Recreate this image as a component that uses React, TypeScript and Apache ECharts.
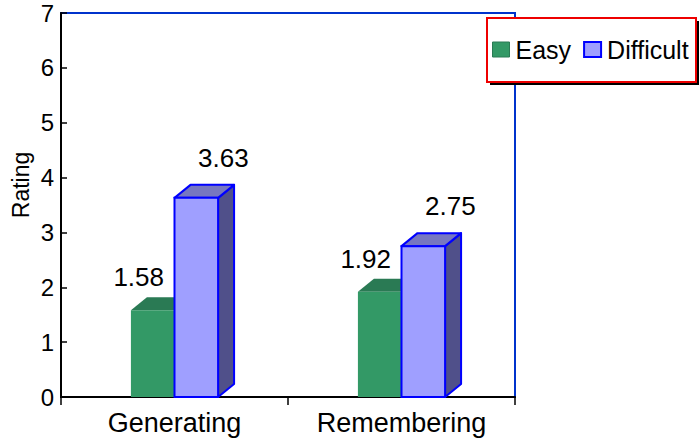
import React, { useEffect, useRef } from "react";
import * as echarts from "echarts";

const categories = ["Generating", "Remembering"];
const easyValues = [1.58, 1.92];
const difficultValues = [3.63, 2.75];
const yTicks = [0, 1, 2, 3, 4, 5, 6, 7];

const FONT = "'Liberation Sans', Arial, Helvetica, sans-serif";

// Fixed oblique depth of the pseudo-3D bars (pixels)
const DEPTH_X = 16;
const DEPTH_Y = 13;

type Face = { front: string; top: string; side: string; stroke?: string };

const easyFace: Face = { front: "#339966", top: "#2a7a54", side: "#226644" };
const difficultFace: Face = {
  front: "#9f9fff",
  top: "#7777c0",
  side: "#50508a",
  stroke: "#0000ff",
};

function makeRender(face: Face, leftSide: boolean, labelDx: number, labelDy: number) {
  return (params: any, api: any) => {
    const idx = api.value(0);
    const v = api.value(1);
    const base = api.coord([idx, 0]);
    const top = api.coord([idx, v]);
    const band = api.size([1, 0])[0];
    const w = band * 0.192;
    const x0 = leftSide ? base[0] - w : base[0];
    const x1 = x0 + w;
    const y0 = top[1];
    const y1 = base[1];
    const stroke = face.stroke;
    const lw = stroke ? 2 : 0;
    return {
      type: "group",
      children: [
        {
          type: "polygon",
          shape: {
            points: [
              [x1, y0],
              [x1 + DEPTH_X, y0 - DEPTH_Y],
              [x1 + DEPTH_X, y1 - DEPTH_Y],
              [x1, y1],
            ],
          },
          style: { fill: face.side, stroke: stroke || null, lineWidth: lw, lineJoin: "round" },
        },
        {
          type: "polygon",
          shape: {
            points: [
              [x0, y0],
              [x0 + DEPTH_X, y0 - DEPTH_Y],
              [x1 + DEPTH_X, y0 - DEPTH_Y],
              [x1, y0],
            ],
          },
          style: { fill: face.top, stroke: stroke || null, lineWidth: lw, lineJoin: "round" },
        },
        {
          type: "rect",
          shape: { x: x0, y: y0, width: w, height: y1 - y0 },
          style: { fill: face.front, stroke: stroke || null, lineWidth: lw },
        },
        {
          type: "text",
          x: (x0 + x1) / 2 + labelDx,
          y: y0 + labelDy,
          style: {
            text: v.toFixed(2),
            fontSize: 26,
            fontFamily: FONT,
            fill: "#000",
            align: "center",
            verticalAlign: "middle",
          },
        },
      ],
    };
  };
}

export default function App() {
  const ref = useRef<HTMLDivElement>(null);

  useEffect(() => {
    document.body.style.margin = "0";
    if (!ref.current) return;
    const chart = echarts.init(ref.current, null, { renderer: "svg" });
    chart.setOption({
      animation: false,
      backgroundColor: "#ffffff",
      grid: {
        left: 61,
        right: 184,
        top: 13,
        bottom: 41,
        show: true,
        borderColor: "#0033cc",
        borderWidth: 2,
        backgroundColor: "transparent",
      },
      xAxis: {
        type: "category",
        data: categories,
        axisLine: { lineStyle: { color: "#000", width: 2 } },
        axisTick: { show: true, length: 8, lineStyle: { color: "#000", width: 1.5 } },
        axisLabel: { color: "#000", fontSize: 27, fontFamily: FONT, margin: 12 },
        splitLine: { show: false },
      },
      yAxis: {
        type: "value",
        min: yTicks[0],
        max: yTicks[yTicks.length - 1],
        interval: 1,
        axisLine: { show: true, lineStyle: { color: "#000", width: 2 } },
        axisTick: { show: true, inside: true, length: 6, lineStyle: { color: "#000", width: 1.5 } },
        axisLabel: {
          color: "#000",
          fontSize: 24,
          fontFamily: FONT,
          margin: 7,
          padding: [7, 0, 0, 0],
        },
        splitLine: { show: false },
      },
      legend: {
        left: 492,
        top: 37,
        itemWidth: 17,
        itemHeight: 15,
        itemGap: 12,
        icon: "rect",
        padding: 0,
        textStyle: { color: "#000", fontSize: 25, fontFamily: FONT, padding: [0, 0, 0, 1] },
        data: [
          { name: "Easy", itemStyle: { color: easyFace.front, borderColor: easyFace.top, borderWidth: 1 } },
          {
            name: "Difficult",
            itemStyle: { color: difficultFace.front, borderColor: "#0000ff", borderWidth: 2 },
          },
        ],
        z: 10,
      },
      graphic: [
        {
          type: "text",
          x: 21,
          y: 185,
          rotation: Math.PI / 2,
          style: {
            text: "Rating",
            fontSize: 23,
            fontFamily: FONT,
            fill: "#000",
            align: "center",
            verticalAlign: "middle",
          },
          z: 5,
        },
        {
          type: "rect",
          shape: { x: 490, y: 21, width: 209, height: 64 },
          style: { fill: "#000" },
          z: 5,
        },
        {
          type: "rect",
          shape: { x: 487, y: 18, width: 209, height: 64 },
          style: { fill: "#fff", stroke: "#ee0000", lineWidth: 2 },
          z: 6,
        },
      ],
      series: [
        {
          name: "Easy",
          type: "custom",
          itemStyle: { color: easyFace.front },
          data: easyValues.map((v, i) => [i, v]),
          encode: { x: 0, y: 1 },
          renderItem: makeRender(easyFace, true, -14, -33),
          z: 2,
        },
        {
          name: "Difficult",
          type: "custom",
          itemStyle: { color: difficultFace.front },
          data: difficultValues.map((v, i) => [i, v]),
          encode: { x: 0, y: 1 },
          renderItem: makeRender(difficultFace, false, 27, -40),
          z: 3,
        },
      ],
    });
    return () => chart.dispose();
  }, []);

  return <div ref={ref} style={{ width: 699, height: 438 }} />;
}
